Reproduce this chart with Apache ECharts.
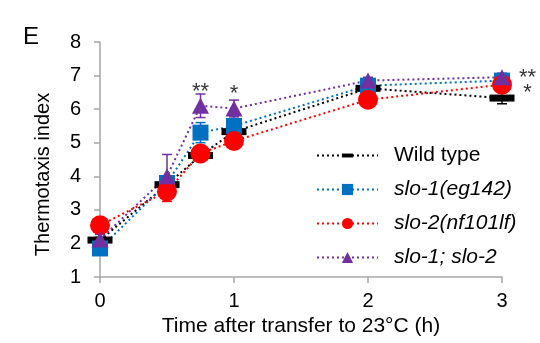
<!DOCTYPE html>
<html>
<head>
<meta charset="utf-8">
<script src="https://cdn.jsdelivr.net/npm/echarts@6/dist/echarts.min.js"></script>
<style>
  html, body {margin: 0; padding: 0; background: #fff;}
  #chart {width: 540px; height: 343px;}
</style>
</head>
<body>
<div id="chart"></div>
<script>
const times = [0, 0.5, 0.75, 1, 2, 3];
const wildType = [2.1, 3.75, 4.62, 5.33, 6.62, 6.33];
const slo1 = [1.85, 3.8, 5.3, 5.5, 6.7, 6.85];
const slo2 = [2.54, 3.55, 4.68, 5.05, 6.28, 6.73];
const slo1slo2 = [2.12, 4.0, 6.1, 6.02, 6.85, 6.95];
const wildTypeErr = [0.08, 0.12, 0.15, 0.15, 0.1, 0.17];
const slo1Err = [0.12, 0.1, 0.3, 0.3, 0.1, 0.12];
const slo2Err = [0.1, 0.3, 0.22, 0.1, 0.1, 0.12];
const slo1slo2Err = [0.15, 0.65, 0.35, 0.25, 0.1, 0.12];
const starX = [0.75, 1, 3.19, 3.19];
const starY = [6.5, 6.44, 6.92, 6.47];
const starText = ['**', '*', '**', '*'];
const names = ['Wild type', 'slo-1(eg142)', 'slo-2(nf101lf)', 'slo-1; slo-2'];

const font = '"Liberation Sans", Arial, sans-serif';
const pts = vals => times.map((t, i) => [t, vals[i]]);
const bars = (vals, errs) => times.map((t, i) => [t, vals[i] - errs[i], vals[i] + errs[i]]);

const errorBar = color => (params, api) => {
  const lo = api.coord([api.value(0), api.value(1)]);
  const hi = api.coord([api.value(0), api.value(2)]);
  const w = 5;
  const style = {stroke: color, lineWidth: 1.5};
  return {
    type: 'group',
    children: [
      {type: 'line', shape: {x1: lo[0], y1: lo[1], x2: hi[0], y2: hi[1]}, style},
      {type: 'line', shape: {x1: lo[0] - w, y1: lo[1], x2: lo[0] + w, y2: lo[1]}, style},
      {type: 'line', shape: {x1: hi[0] - w, y1: hi[1], x2: hi[0] + w, y2: hi[1]}, style},
    ]
  };
};

const colors = ['#000000', '#0070C0', '#FF0000', '#7030A0'];
const values = [wildType, slo1, slo2, slo1slo2];
const errs = [wildTypeErr, slo1Err, slo2Err, slo1slo2Err];
// dash marker: the bounding box is taller than the bar so the legend keeps it flat
const symbols = [
  {symbol: 'path://M0,0M25,20M0,6.5H25V13.5H0Z', symbolSize: [25, 20]},
  {symbol: 'rect', symbolSize: 16},
  {symbol: 'circle', symbolSize: 20},
  {symbol: 'triangle', symbolSize: [17, 16]},
];

const errorSeries = colors.map((c, k) => ({
  type: 'custom',
  renderItem: errorBar(c),
  data: bars(values[k], errs[k]),
  encode: {x: 0, y: [1, 2]},
  z: 1,
  silent: true
}));

const lineSeries = names.map((name, k) => ({
  name,
  type: 'line',
  data: pts(values[k]),
  ...symbols[k],
  clip: false,
  z: 2,
  itemStyle: {color: colors[k], opacity: 1},
  lineStyle: {color: colors[k], width: 2, type: [2, 3]},
  animation: false
}));

const chart = echarts.init(document.getElementById('chart'));
chart.setOption({
  animation: false,
  textStyle: {fontFamily: font},
  title: {
    text: 'E',
    left: 18,
    top: 20,
    textStyle: {fontSize: 24, fontWeight: 'normal', color: '#000', fontFamily: font}
  },
  grid: {left: 100, right: 38, top: 42, bottom: 66},
  legend: {
    data: names,
    orient: 'vertical',
    left: 311,
    top: 140,
    itemWidth: 61,
    itemHeight: 14,
    itemGap: 13,
    textStyle: {
      fontSize: 21,
      color: '#000',
      fontFamily: font,
      padding: [0, 0, 0, 11],
      rich: {it: {fontSize: 21, fontStyle: 'italic', color: '#000', fontFamily: font}}
    },
    formatter: name => name === 'Wild type' ? name : '{it|' + name + '}'
  },
  xAxis: {
    type: 'value',
    min: 0,
    max: 3,
    interval: 1,
    name: 'Time after transfer to 23°C (h)',
    nameLocation: 'middle',
    nameGap: 36,
    nameTextStyle: {fontSize: 21, color: '#000', fontFamily: font},
    axisLine: {lineStyle: {color: '#A6A6A6', width: 1.5}},
    axisTick: {length: 6, lineStyle: {color: '#A6A6A6', width: 1.5}},
    axisLabel: {fontSize: 20, color: '#000', margin: 14, fontFamily: font},
    splitLine: {show: false}
  },
  yAxis: {
    type: 'value',
    min: 1,
    max: 8,
    interval: 1,
    name: 'Thermotaxis index',
    nameLocation: 'middle',
    nameGap: 47,
    nameTextStyle: {fontSize: 20, color: '#000', fontFamily: font, padding: [0, 30, 0, 0]},
    axisLine: {show: true, lineStyle: {color: '#A6A6A6', width: 1.5}},
    axisTick: {show: true, length: 6, lineStyle: {color: '#A6A6A6', width: 1.5}},
    axisLabel: {fontSize: 20, color: '#000', margin: 19, fontFamily: font},
    splitLine: {show: false}
  },
  series: [
    ...errorSeries,
    ...lineSeries,
    {
      type: 'scatter',
      data: starX.map((x, i) => [x, starY[i], starText[i]]),
      symbolSize: 0,
      clip: false,
      silent: true,
      z: 3,
      label: {
        show: true,
        position: 'inside',
        formatter: p => p.data[2],
        fontSize: 22,
        color: '#000',
        fontFamily: font
      }
    }
  ]
});
</script>
</body>
</html>
